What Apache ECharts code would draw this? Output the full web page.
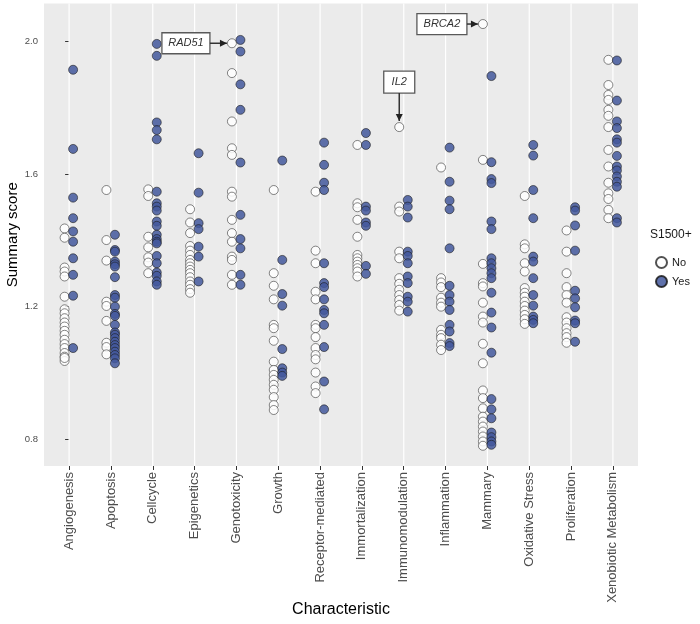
<!DOCTYPE html>
<html>
<head>
<meta charset="utf-8">
<script src="https://cdn.jsdelivr.net/npm/echarts@6/dist/echarts.min.js"></script>
<style>html,body{margin:0;padding:0;background:#fff}#c{width:700px;height:624px}</style>
</head>
<body>
<div id="c"></div>
<script>
const categories = ['Angiogenesis','Apoptosis','Cellcycle','Epigenetics','Genotoxicity','Growth','Receptor-mediated','Immortalization','Immunomodulation','Inflammation','Mammary','Oxidative Stress','Proliferation','Xenobiotic Metabolism'];

const yTicks = [0.8, 1.2, 1.6, 2.0];

const noAngiogenesis = [1.436,1.408,1.318,1.306,1.291,1.230,1.192,1.180,1.165,1.152,1.140,1.127,1.115,1.100,1.087,1.075,1.060,1.049,1.036,1.045];
const yesAngiogenesis = [1.915,1.676,1.529,1.467,1.427,1.396,1.346,1.296,1.233,1.075];
const noApoptosis = [1.552,1.401,1.339,1.215,1.202,1.157,1.091,1.078,1.056];
const yesApoptosis = [1.417,1.371,1.366,1.336,1.328,1.321,1.289,1.235,1.227,1.200,1.178,1.172,1.145,1.122,1.115,1.105,1.094,1.084,1.075,1.064,1.054,1.044,1.029];
const noCellcycle = [1.554,1.534,1.411,1.379,1.349,1.333,1.301];
const yesCellcycle = [1.993,1.957,1.756,1.733,1.705,1.547,1.512,1.502,1.490,1.457,1.444,1.417,1.404,1.396,1.391,1.353,1.331,1.303,1.293,1.276,1.266];
const noEpigenetics = [1.494,1.454,1.422,1.383,1.369,1.356,1.341,1.331,1.321,1.311,1.301,1.289,1.276,1.266,1.253,1.242];
const yesEpigenetics = [1.663,1.544,1.452,1.434,1.381,1.351,1.276];
const noGenotoxicity = [1.995,1.905,1.759,1.678,1.658,1.547,1.532,1.462,1.422,1.396,1.351,1.341,1.296,1.266];
const yesGenotoxicity = [2.005,1.970,1.871,1.794,1.635,1.477,1.404,1.376,1.296,1.266];
const noGrowth = [1.552,1.301,1.263,1.222,1.145,1.135,1.097,1.034,1.009,0.994,0.979,0.964,0.949,0.927,0.903,0.888];
const yesGrowth = [1.641,1.341,1.238,1.203,1.072,1.014,1.001,0.991];
const noReceptor = [1.547,1.369,1.331,1.245,1.222,1.145,1.135,1.108,1.075,1.054,1.041,1.001,0.959,0.939];
const yesReceptor = [1.695,1.628,1.574,1.552,1.331,1.271,1.259,1.222,1.190,1.180,1.145,1.078,0.974,0.890];
const noImmortalization = [1.688,1.512,1.500,1.462,1.411,1.356,1.346,1.336,1.326,1.316,1.306,1.291];
const yesImmortalization = [1.724,1.688,1.502,1.490,1.454,1.444,1.323,1.299];
const noImmunomodulation = [1.742,1.502,1.487,1.366,1.346,1.286,1.269,1.251,1.235,1.220,1.205,1.188];
const yesImmunomodulation = [1.522,1.502,1.469,1.366,1.353,1.331,1.291,1.271,1.230,1.215,1.185];
const noInflammation = [1.620,1.286,1.273,1.259,1.227,1.212,1.200,1.130,1.115,1.105,1.085,1.069];
const yesInflammation = [1.680,1.577,1.520,1.494,1.376,1.263,1.235,1.215,1.190,1.145,1.125,1.090,1.081];
const noMammary = [2.053,1.643,1.329,1.271,1.261,1.212,1.170,1.152,1.088,1.029,0.947,0.924,0.893,0.868,0.853,0.838,0.823,0.808,0.793,0.780];
const yesMammary = [1.896,1.636,1.585,1.573,1.457,1.434,1.346,1.331,1.316,1.301,1.286,1.242,1.182,1.137,1.061,0.921,0.890,0.863,0.820,0.806,0.793,0.783];
const noOxidative = [1.534,1.388,1.376,1.331,1.306,1.256,1.242,1.230,1.215,1.202,1.188,1.175,1.162,1.148];
const yesOxidative = [1.688,1.656,1.552,1.467,1.351,1.336,1.286,1.235,1.203,1.170,1.160,1.150];
const noProliferation = [1.430,1.366,1.301,1.259,1.235,1.212,1.168,1.152,1.135,1.120,1.108,1.091];
const yesProliferation = [1.500,1.490,1.445,1.369,1.248,1.225,1.198,1.158,1.150,1.094];
const noXenobiotic = [1.945,1.869,1.839,1.824,1.794,1.776,1.742,1.673,1.623,1.574,1.542,1.525,1.492,1.467];
const yesXenobiotic = [1.943,1.822,1.759,1.739,1.705,1.695,1.655,1.623,1.611,1.593,1.577,1.562,1.467,1.454];

const noGroups = [noAngiogenesis,noApoptosis,noCellcycle,noEpigenetics,noGenotoxicity,noGrowth,noReceptor,noImmortalization,noImmunomodulation,noInflammation,noMammary,noOxidative,noProliferation,noXenobiotic];
const yesGroups = [yesAngiogenesis,yesApoptosis,yesCellcycle,yesEpigenetics,yesGenotoxicity,yesGrowth,yesReceptor,yesImmortalization,yesImmunomodulation,yesInflammation,yesMammary,yesOxidative,yesProliferation,yesXenobiotic];

const annotations = [
  {gene: 'RAD51', category: 'Genotoxicity', value: 1.995},
  {gene: 'IL2', category: 'Immunomodulation', value: 1.742},
  {gene: 'BRCA2', category: 'Mammary', value: 2.053}
];

function toPoints(groups) {
  const out = [];
  groups.forEach((g, i) => g.forEach(v => out.push([i, v])));
  return out;
}

const NO_OFF = -4.5, YES_OFF = 4;
const chart = echarts.init(document.getElementById('c'), null, {renderer: 'canvas'});
const font = 'Liberation Sans, Arial, sans-serif';
const catIdx = categories.map((c, i) => i);

chart.setOption({
  animation: false,
  backgroundColor: '#ffffff',
  grid: {left: 44, right: 62, top: 3.5, bottom: 158, show: true, backgroundColor: '#ebebeb', borderWidth: 0,
    containLabel: false, outerBoundsMode: 'none'},
  xAxis: {
    type: 'value', min: -0.6, max: 13.6,
    axisLine: {show: false},
    splitLine: {show: false},
    axisTick: {show: true, customValues: catIdx, length: 4, lineStyle: {color: '#333', width: 1}},
    axisLabel: {customValues: catIdx, rotate: 90, margin: 6, fontSize: 13, color: '#4d4d4d', fontFamily: font,
      formatter: v => categories[Math.round(v)]},
    name: 'Characteristic', nameLocation: 'middle', nameGap: 136, nameMoveOverlap: false,
    nameTextStyle: {fontSize: 16, color: '#000', fontFamily: font}
  },
  yAxis: {
    type: 'value', min: 0.719, max: 2.115,
    axisLine: {show: false},
    splitLine: {show: false},
    axisTick: {show: true, customValues: yTicks, length: 4, lineStyle: {color: '#333', width: 1}},
    axisLabel: {customValues: yTicks, margin: 6, fontSize: 9.5, color: '#4d4d4d', fontFamily: font,
      formatter: v => v.toFixed(1)},
    name: 'Summary score', nameLocation: 'middle', nameGap: 24, nameMoveOverlap: false,
    nameTextStyle: {fontSize: 15, color: '#000', fontFamily: font}
  },
  legend: {
    orient: 'vertical', left: 650, top: 251, itemWidth: 11, itemHeight: 11, itemGap: 6,
    data: ['No', 'Yes'],
    textStyle: {fontSize: 11, color: '#1a1a1a', fontFamily: font}
  },
  series: [
    {
      type: 'custom', silent: true, z: 1,
      data: catIdx,
      renderItem: (params, api) => {
        const x = api.value(0);
        const p1 = api.coord([x, 2.115]);
        const p2 = api.coord([x, 0.719]);
        return {type: 'line', shape: {x1: p1[0], y1: p1[1], x2: p2[0], y2: p2[1]}, style: {stroke: '#ffffff', lineWidth: 1.2}};
      }
    },
    {
      name: 'No', type: 'scatter', z: 3, symbol: 'circle', symbolSize: 9, symbolOffset: [NO_OFF, 0],
      data: toPoints(noGroups),
      itemStyle: {color: '#ffffff', borderColor: '#333333', borderWidth: 0.7, opacity: 0.85}
    },
    {
      name: 'Yes', type: 'scatter', z: 4, symbol: 'circle', symbolSize: 9, symbolOffset: [YES_OFF, 0],
      data: toPoints(yesGroups),
      itemStyle: {color: '#43589c', borderColor: '#1a1a1a', borderWidth: 0.7, opacity: 0.85}
    }
  ]
});

// annotations: boxes with arrows pointing to data points
const boxLayout = {
  RAD51: {dir: 'left', w: 48, h: 21, gap: 22},
  BRCA2: {dir: 'left', w: 50, h: 21, gap: 16},
  IL2: {dir: 'up', w: 31, h: 22, gap: 34}
};
const g = [];
g.push({type: 'text', left: 650, top: 229, style: {text: 'S1500+', fontSize: 12, fill: '#1a1a1a', fontFamily: font}});
annotations.forEach(a => {
  const p = chart.convertToPixel({xAxisIndex: 0, yAxisIndex: 0}, [categories.indexOf(a.category), a.value]);
  const tx = p[0] + NO_OFF, ty = p[1];
  const L = boxLayout[a.gene];
  let bx, by, x1, y1, x2, y2, head;
  if (L.dir === 'left') {
    bx = tx - L.gap - L.w; by = ty - L.h / 2;
    x1 = tx - L.gap; y1 = ty; x2 = tx - 5; y2 = ty;
    head = [[x2, y2], [x2 - 7, y2 - 3.5], [x2 - 7, y2 + 3.5]];
  } else {
    bx = tx - L.w / 2; by = ty - L.gap - L.h;
    x1 = tx; y1 = ty - L.gap; x2 = tx; y2 = ty - 6;
    head = [[x2, y2], [x2 - 3.5, y2 - 7], [x2 + 3.5, y2 - 7]];
  }
  g.push({type: 'rect', shape: {x: bx, y: by, width: L.w, height: L.h}, style: {fill: '#ffffff', stroke: '#595959', lineWidth: 1.3}, z: 10});
  g.push({type: 'text', x: bx + L.w / 2, y: by + L.h / 2, style: {text: a.gene, fontSize: 11, fontStyle: 'italic', fill: '#333', align: 'center', verticalAlign: 'middle', fontFamily: font}, z: 11});
  g.push({type: 'line', shape: {x1: x1, y1: y1, x2: x2, y2: y2}, style: {stroke: '#333', lineWidth: 1.5}, z: 10});
  g.push({type: 'polygon', shape: {points: head}, style: {fill: '#222'}, z: 10});
});
chart.setOption({graphic: g});
</script>
</body>
</html>
